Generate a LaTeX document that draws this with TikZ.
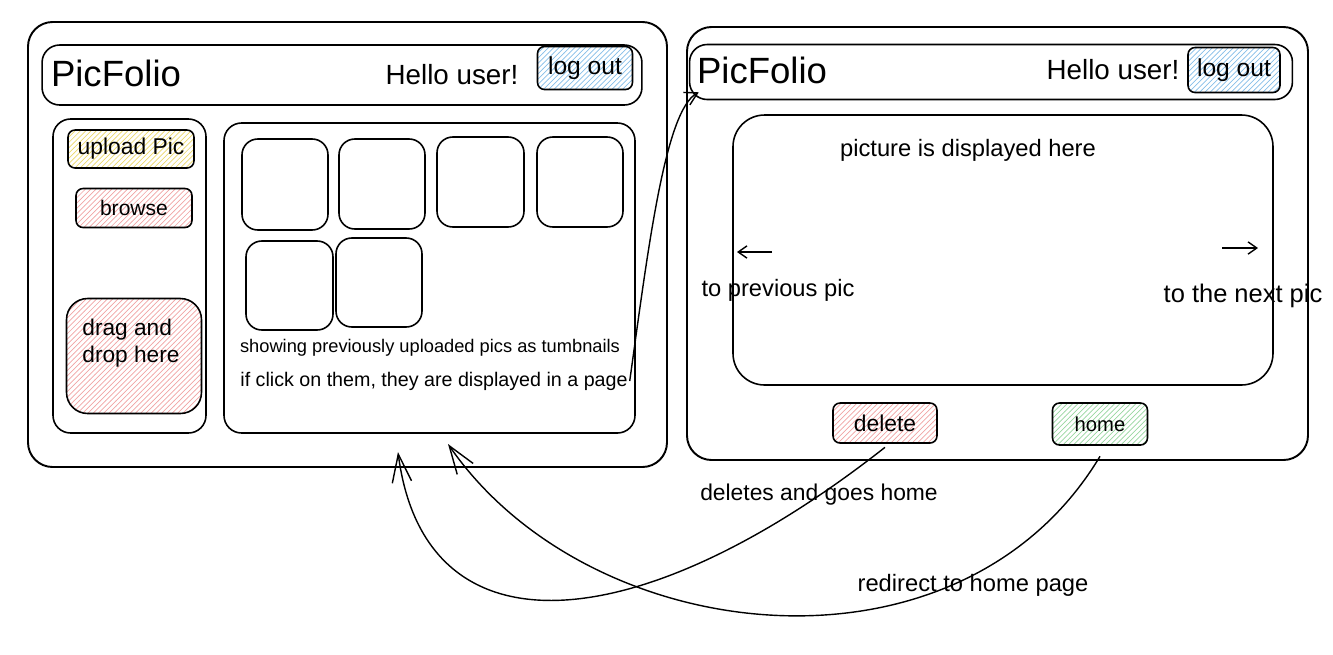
\documentclass[tikz,border=0pt]{standalone}
\usepackage{fontspec}
\setmainfont{Liberation Sans}
\usetikzlibrary{patterns,arrows.meta}
\definecolor{hatchyellow}{HTML}{EBD76A}
\definecolor{hatchred}{HTML}{F0A3A3}
\definecolor{hatchblue}{HTML}{86BEE8}
\definecolor{hatchgreen}{HTML}{98D6A0}

\begin{document}
\begin{tikzpicture}[x=0.02cm, y=-0.02cm,
  frame/.style={draw=black, line width=1.1pt, rounded corners=14pt},
  panel/.style={draw=black, line width=0.9pt, rounded corners=10pt},
  thumb/.style={draw=black, line width=0.9pt, rounded corners=9pt},
  btn/.style={draw=black, line width=0.9pt, rounded corners=4pt, inner sep=0pt, font=\fontsize{13}{15}\selectfont},
  title/.style={inner sep=0pt, font=\fontsize{20.8}{24}\selectfont},
  hello/.style={inner sep=0pt, font=\fontsize{15.8}{18}\selectfont},
  lbl/.style={inner sep=1pt, font=\fontsize{13.5}{16}\selectfont},
  link/.style={line width=0.8pt, -{Straight Barb[length=16pt,width=11pt]}}]
  \useasboundingbox (0,0) rectangle (1333,654);

  \draw[frame] (28,22) rectangle (667,467);
  \node[panel, minimum width=12cm, minimum height=1.2cm] (hdrA) at (342,75) {};
  \node[title] (titleA) at (116,73) {PicFolio};
  \node[hello] (helloA) at (452,75) {Hello user!};
  \node[btn, font=\fontsize{14}{16}\selectfont, pattern=north east lines, pattern color=hatchblue, minimum width=1.9cm, minimum height=0.86cm] (logoutA) at (585,68) {log out};
  \draw[panel] (53,119) rectangle (206,433);
  \node[btn, pattern=north east lines, pattern color=hatchyellow, minimum width=2.52cm, minimum height=0.76cm] (upload) at (131,149) {upload Pic};
  \node[btn, font=\fontsize{12}{14}\selectfont, pattern=north east lines, pattern color=hatchred, minimum width=2.32cm, minimum height=0.78cm] (browse) at (134,208) {browse};
  \node[btn, rounded corners=12pt, pattern=north east lines, pattern color=hatchred, minimum width=2.7cm, minimum height=2.3cm] (dropbox) at (134,356) {};
  \node[inner sep=0pt, align=left, font=\fontsize{12.9}{15.5}\selectfont] (dropTxt) at (131,343) {drag and\\drop here};
  \draw[panel] (224,123) rectangle (635,433);
  \draw[thumb] (242,139) rectangle (328,230);
  \draw[thumb] (339,139) rectangle (425,229);
  \draw[thumb] (437,137) rectangle (524,227);
  \draw[thumb] (537,137) rectangle (623,227);
  \draw[thumb] (246,241) rectangle (333,330);
  \draw[thumb] (336,238) rectangle (422,327);
  \node[lbl, font=\fontsize{10.4}{12}\selectfont] (showTxt) at (430,348) {showing previously uploaded pics as tumbnails};
  \node[lbl, font=\fontsize{11.2}{13}\selectfont] (clickTxt) at (434,381) {if click on them, they are displayed in a page};

  \draw[frame] (687,27) rectangle (1308,460);
  \node[panel, minimum width=12.06cm, minimum height=1.1cm] (hdrB) at (991,72) {};
  \node[title] (titleB) at (762,70) {PicFolio};
  \node[hello] (helloB) at (1113,70) {Hello user!};
  \node[btn, font=\fontsize{14}{16}\selectfont, pattern=north east lines, pattern color=hatchblue, minimum width=1.84cm, minimum height=0.9cm] (logoutB) at (1234,70) {log out};
  \draw[panel, rounded corners=18pt] (733,115) rectangle (1273,385);
  \node[lbl] (picTxt) at (968,150) {picture is displayed here};
  \coordinate (prevFrom) at (772,252);
  \coordinate (prevTo) at (737,252);
  \coordinate (nextFrom) at (1222,248);
  \coordinate (nextTo) at (1258,248);
  \draw[line width=0.8pt, -{Straight Barb[length=5pt,width=7pt]}] (prevFrom) -- (prevTo);
  \draw[line width=0.8pt, -{Straight Barb[length=5pt,width=7pt]}] (nextFrom) -- (nextTo);
  \node[lbl] (prevTxt) at (778,290) {to previous pic};
  \node[lbl, font=\fontsize{14.5}{17}\selectfont] (nextTxt) at (1243,296) {to the next pic};
  \node[btn, pattern=north east lines, pattern color=hatchred, minimum width=2.08cm, minimum height=0.8cm] (delete) at (885,423) {delete};
  \node[btn, font=\fontsize{11.5}{14}\selectfont, pattern=north east lines, pattern color=hatchgreen, minimum width=1.9cm, minimum height=0.84cm] (home) at (1100,424) {home};
  \node[lbl, font=\fontsize{13}{15}\selectfont] (delTxt) at (819,495) {deletes and goes home};
  \node[lbl] (redTxt) at (973,585) {redirect to home page};

  \coordinate (delIn) at (398,452);
  \coordinate (homeIn) at (448,444);
  \draw[link, -{Straight Barb[length=7pt,width=8pt]}] (clickTxt.east) .. controls (648,250) and (665,110) .. ([shift={(10,-8)}]hdrB.south west);
  \draw[link] ([yshift=-2pt]delete.south) .. controls (640,640) and (425,660) .. (delIn);
  \draw[link] ([yshift=-6pt]home.south) .. controls (960,690) and (590,650) .. (homeIn);
\end{tikzpicture}
\end{document}
